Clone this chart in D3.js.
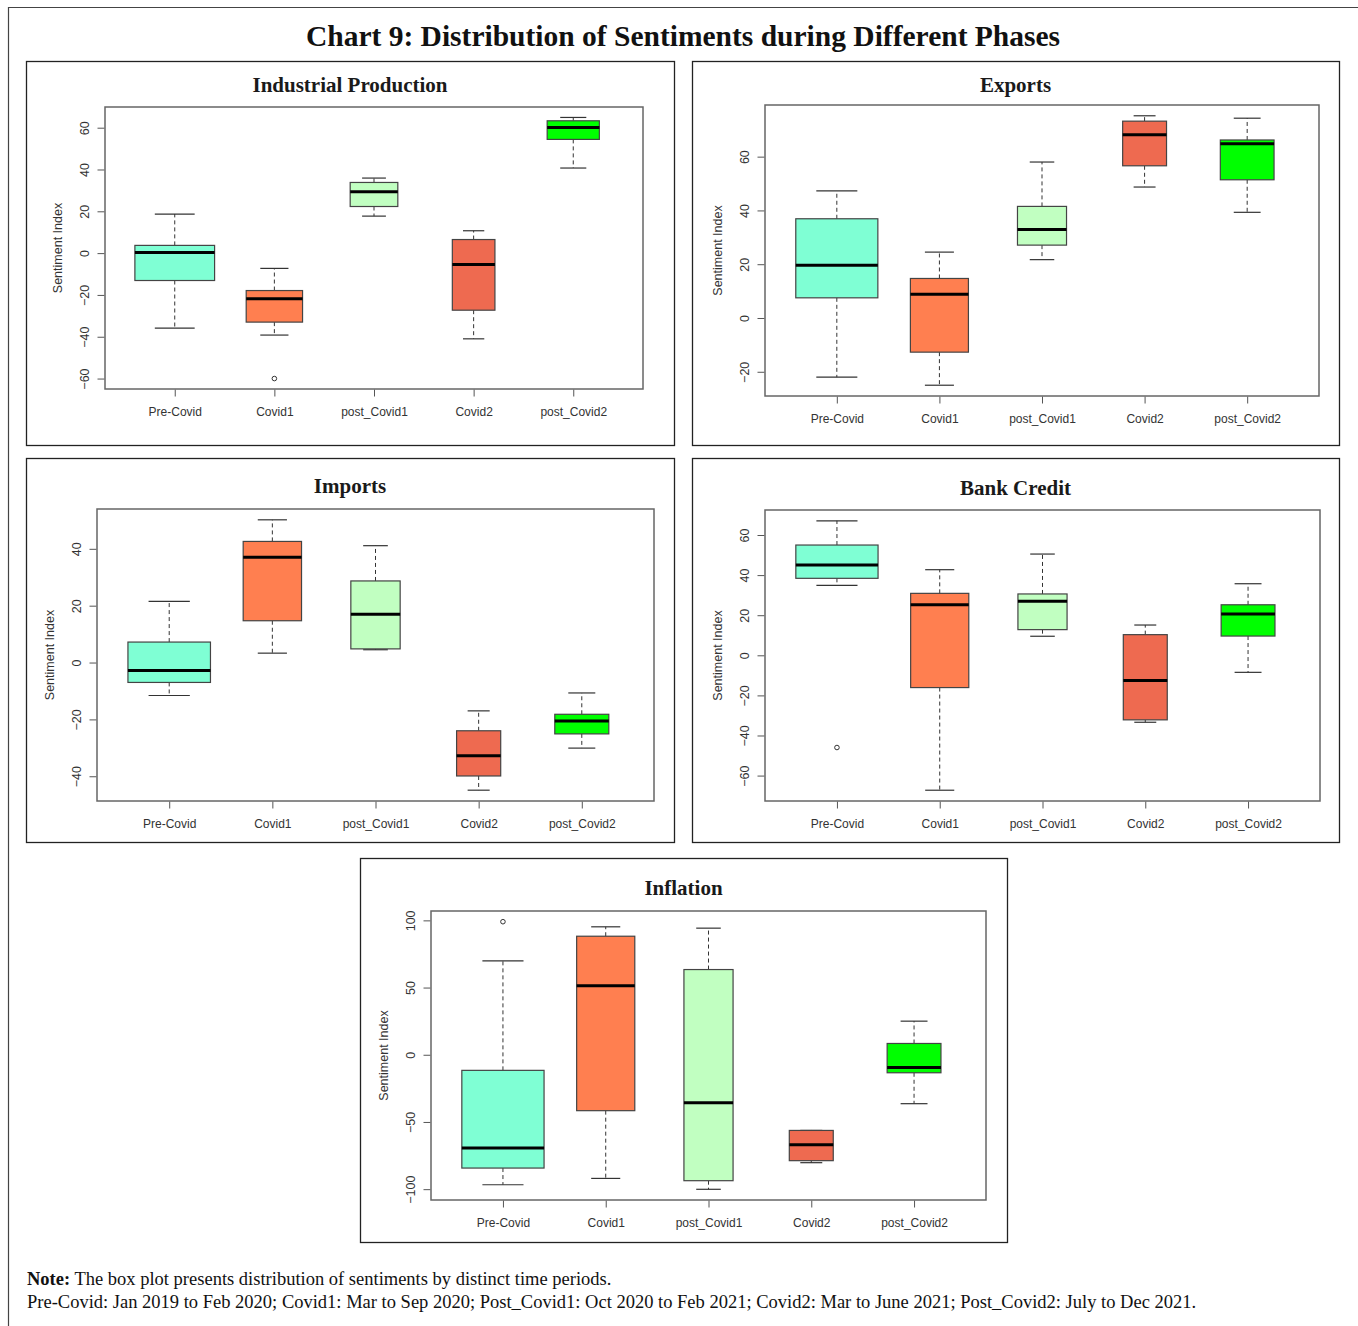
<!DOCTYPE html>
<html>
<head>
<meta charset="utf-8">
<script src="https://cdnjs.cloudflare.com/ajax/libs/d3/7.8.5/d3.min.js"></script>
<style>
  html, body { margin: 0; padding: 0; background: #fff; }
  svg { display: block; }
</style>
</head>
<body>
<svg id="chart" width="1358" height="1326"></svg>
<script>
// Time periods shown on every panel
const phases = ["Pre-Covid", "Covid1", "post_Covid1", "Covid2", "post_Covid2"];
const phaseColors = ["#7FFFD4", "#FF7F50", "#C1FFC1", "#EE6A50", "#00FF00"];
// Months in each period (box widths scale with the square root of these)
const phaseMonths = [14, 7, 5, 4, 6];

// Five-number summaries per phase: [lower whisker, Q1, median, Q3, upper whisker]
const industrialStats = [
  [-35.9, -13.1, 0.3, 3.7, 18.7],
  [-39.2, -33.0, -21.8, -17.9, -7.3],
  [17.7, 22.3, 29.3, 33.8, 35.9],
  [-41.0, -27.3, -5.4, 6.5, 10.7],
  [40.7, 54.4, 60.1, 63.3, 64.9]
];
const industrialOutliers = [[], [-60], [], [], []];
const industrialTicks = [-60, -40, -20, 0, 20, 40, 60];

const exportStats = [
  [-22.0, 7.5, 19.6, 36.9, 47.3],
  [-25.0, -12.7, 8.8, 14.7, 24.5],
  [21.7, 27.1, 32.9, 41.5, 58.0],
  [48.7, 56.6, 68.1, 73.2, 75.2],
  [39.3, 51.4, 64.8, 66.2, 74.3]
];
const exportOutliers = [[], [], [], [], []];
const exportTicks = [-20, 0, 20, 40, 60];

const importStats = [
  [-11.6, -7.0, -2.8, 7.2, 21.5],
  [3.3, 14.7, 37.0, 42.6, 50.2],
  [4.5, 4.8, 17.0, 28.7, 41.1],
  [-44.9, -39.9, -32.8, -24.0, -17.0],
  [-30.1, -25.1, -20.6, -18.2, -10.7]
];
const importOutliers = [[], [], [], [], []];
const importTicks = [-40, -20, 0, 20, 40];

const bankCreditStats = [
  [34.9, 38.4, 45.0, 55.0, 67.1],
  [-67.3, -16.1, 25.2, 30.9, 42.7],
  [9.5, 12.8, 26.9, 30.6, 50.5],
  [-33.4, -32.2, -12.6, 10.3, 15.1],
  [-8.5, 9.6, 20.6, 25.2, 35.7]
];
const bankCreditOutliers = [[-46], [], [], [], []];
const bankCreditTicks = [-60, -40, -20, 0, 20, 40, 60];

const inflationStats = [
  [-96.7, -84.3, -69.4, -11.6, 69.9],
  [-92.0, -41.6, 51.3, 88.2, 95.2],
  [-100.1, -93.7, -35.7, 63.4, 94.2],
  [-80.3, -78.8, -66.9, -56.3, -56.3],
  [-36.4, -13.4, -9.4, 8.4, 25.0]
];
const inflationOutliers = [[99], [], [], [], []];
const inflationTicks = [-100, -50, 0, 50, 100];

const panelTitles = ["Industrial Production", "Exports", "Imports", "Bank Credit", "Inflation"];
const axisTitle = "Sentiment Index";
const chartTitle = "Chart 9: Distribution of Sentiments during Different Phases";
const noteLabel = "Note:";
const noteText = " The box plot presents distribution of sentiments by distinct time periods.";
const periodText = "Pre-Covid: Jan 2019 to Feb 2020; Covid1: Mar to Sep 2020; Post_Covid1: Oct 2020 to Feb 2021; Covid2: Mar to June 2021; Post_Covid2: July to Dec 2021.";

const svg = d3.select("#chart");
const serif = "'Liberation Serif', 'DejaVu Serif', serif";
const sans = "'Liberation Sans', Arial, sans-serif";

// Page frame (top and left rules)
svg.append("path")
  .attr("d", "M8.5,1326 V7.5 H1358")
  .attr("fill", "none").attr("stroke", "#444").attr("stroke-width", 1.2);

svg.append("text")
  .attr("x", 683).attr("y", 46)
  .attr("text-anchor", "middle")
  .attr("font-family", serif).attr("font-weight", "bold").attr("font-size", 29.5)
  .attr("fill", "#111")
  .text(chartTitle);

// Panel frames and plot areas
const layouts = [
  { frame: [26, 61, 648, 384], plot: [105, 107, 643, 389], titleY: 92 },
  { frame: [692, 61, 647, 384], plot: [765, 105, 1319, 396], titleY: 92 },
  { frame: [26, 458, 648, 384], plot: [97, 509, 654, 801], titleY: 493 },
  { frame: [692, 458, 647, 384], plot: [765, 510, 1320, 801], titleY: 495 },
  { frame: [360, 858, 647, 384], plot: [431, 911, 986, 1200], titleY: 895 }
];

const panels = [
  { stats: industrialStats, outliers: industrialOutliers, ticks: industrialTicks },
  { stats: exportStats, outliers: exportOutliers, ticks: exportTicks },
  { stats: importStats, outliers: importOutliers, ticks: importTicks },
  { stats: bankCreditStats, outliers: bankCreditOutliers, ticks: bankCreditTicks },
  { stats: inflationStats, outliers: inflationOutliers, ticks: inflationTicks }
];

const maxMonths = d3.max(phaseMonths);

panels.forEach((p, i) => {
  const L = layouts[i];
  const [fx, fy, fw, fh] = L.frame;
  const [x0, y0, x1, y1] = L.plot;
  const g = svg.append("g");

  g.append("rect")
    .attr("x", fx + 0.5).attr("y", fy + 0.5).attr("width", fw).attr("height", fh)
    .attr("fill", "#fff").attr("stroke", "#222").attr("stroke-width", 1.3);

  g.append("text")
    .attr("x", fx + fw / 2).attr("y", L.titleY)
    .attr("text-anchor", "middle")
    .attr("font-family", serif).attr("font-weight", "bold").attr("font-size", 21)
    .attr("fill", "#1a1a1a")
    .text(panelTitles[i]);

  // Y range padded by 4% on each side of the data, as in a base-R boxplot
  const allVals = p.stats.flat().concat(p.outliers.flat());
  const [lo, hi] = d3.extent(allVals);
  const pad = (hi - lo) * 0.04;
  const y = d3.scaleLinear().domain([lo - pad, hi + pad]).range([y1, y0]);
  const x = d3.scaleLinear().domain([0.3, phases.length + 0.7]).range([x0, x1]);
  const unit = x(2) - x(1);

  // Y axis
  const yAxis = g.append("g").attr("transform", `translate(${x0 - 0.5},0)`)
    .call(d3.axisLeft(y).tickValues(p.ticks).tickSize(7).tickFormat(d3.format("d")));
  yAxis.select(".domain").remove();
  yAxis.selectAll(".tick line").attr("stroke", "#555");
  yAxis.selectAll(".tick text")
    .attr("font-family", sans).attr("font-size", 12.5).attr("fill", "#333")
    .attr("x", 0).attr("dy", 0)
    .attr("text-anchor", "middle")
    .attr("transform", "translate(-16,0) rotate(-90)");

  // X axis
  const xAxis = g.append("g").attr("transform", `translate(0,${y1 + 0.5})`)
    .call(d3.axisBottom(x).tickValues(d3.range(1, phases.length + 1)).tickSize(7)
      .tickFormat(d => phases[d - 1]));
  xAxis.select(".domain").remove();
  xAxis.selectAll(".tick line").attr("stroke", "#555");
  xAxis.selectAll(".tick text")
    .attr("font-family", sans).attr("font-size", 12).attr("fill", "#333")
    .attr("y", 18).attr("dy", "0.71em");

  g.append("text")
    .attr("transform", `translate(${x0 - 43},${(y0 + y1) / 2}) rotate(-90)`)
    .attr("text-anchor", "middle")
    .attr("font-family", sans).attr("font-size", 12.5).attr("fill", "#333")
    .text(axisTitle);

  // Boxes (variable width)
  const boxes = g.selectAll(".box").data(p.stats).join("g").attr("class", "box");
  boxes.each(function (s, j) {
    const b = d3.select(this);
    const cx = x(j + 1);
    const boxW = unit * 0.8 * Math.sqrt(phaseMonths[j] / maxMonths);
    const capW = boxW / 2;
    const [wl, q1, med, q3, wu] = s;
    // whiskers
    b.append("line").attr("x1", cx).attr("x2", cx).attr("y1", y(q3)).attr("y2", y(wu))
      .attr("stroke", "#333").attr("stroke-dasharray", "4,3");
    b.append("line").attr("x1", cx).attr("x2", cx).attr("y1", y(q1)).attr("y2", y(wl))
      .attr("stroke", "#333").attr("stroke-dasharray", "4,3");
    b.append("line").attr("x1", cx - capW / 2).attr("x2", cx + capW / 2)
      .attr("y1", y(wu)).attr("y2", y(wu)).attr("stroke", "#333").attr("stroke-width", 1.2);
    b.append("line").attr("x1", cx - capW / 2).attr("x2", cx + capW / 2)
      .attr("y1", y(wl)).attr("y2", y(wl)).attr("stroke", "#333").attr("stroke-width", 1.2);
    b.append("rect")
      .attr("x", cx - boxW / 2).attr("y", y(q3))
      .attr("width", boxW).attr("height", y(q1) - y(q3))
      .attr("fill", phaseColors[j]).attr("stroke", "#444").attr("stroke-width", 1.2);
    b.append("line").attr("x1", cx - boxW / 2).attr("x2", cx + boxW / 2)
      .attr("y1", y(med)).attr("y2", y(med)).attr("stroke", "#000").attr("stroke-width", 3);
    b.selectAll("circle").data(p.outliers[j]).join("circle")
      .attr("cx", cx).attr("cy", d => y(d)).attr("r", 2.3)
      .attr("fill", "none").attr("stroke", "#333").attr("stroke-width", 1);
  });

  // plot border
  g.append("rect")
    .attr("x", x0).attr("y", y0).attr("width", x1 - x0).attr("height", y1 - y0)
    .attr("fill", "none").attr("stroke", "#666").attr("stroke-width", 1.5);
});

// Notes
const note = svg.append("text")
  .attr("x", 27).attr("y", 1285)
  .attr("font-family", serif).attr("font-size", 18.5).attr("fill", "#111");
note.append("tspan").attr("font-weight", "bold").text(noteLabel);
note.append("tspan").text(noteText);

svg.append("text")
  .attr("x", 27).attr("y", 1308)
  .attr("font-family", serif).attr("font-size", 18.5).attr("fill", "#111")
  .text(periodText);
</script>
</body>
</html>
